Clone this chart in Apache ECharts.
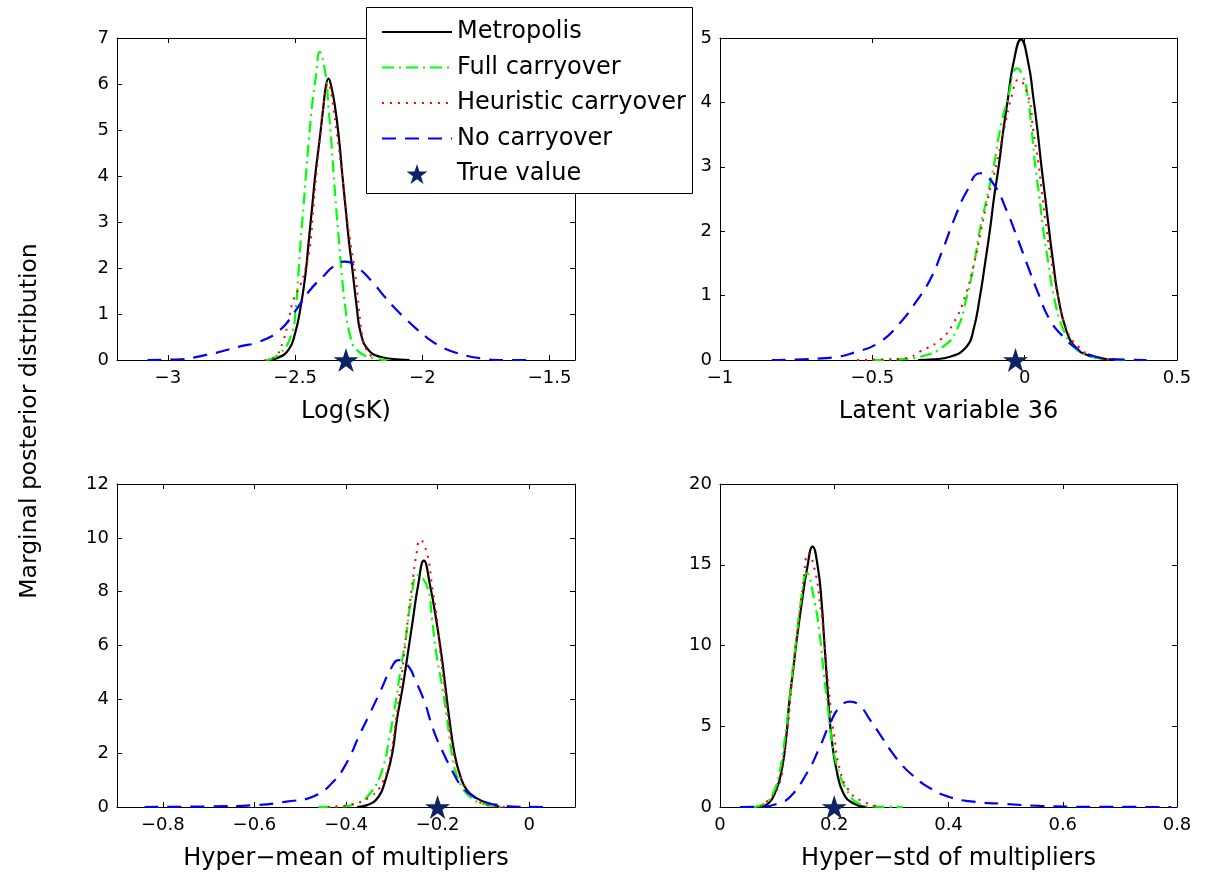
<!DOCTYPE html>
<html>
<head>
<meta charset="utf-8">
<script src="https://cdn.jsdelivr.net/npm/echarts@6/dist/echarts.min.js"></script>
<style>html,body{margin:0;padding:0;background:#fff}#c{width:1205px;height:874px}</style>
</head>
<body>
<div id="c"></div>
<script>
// ---------------- DATA ----------------
const seriesNames = ['Metropolis', 'Full carryover', 'Heuristic carryover', 'No carryover', 'True value'];
const yTitle = 'Marginal posterior distribution';
const xTitles = ['Log(sK)', 'Latent variable 36', 'Hyper\u2212mean of multipliers', 'Hyper\u2212std of multipliers'];

// Panel 1: Log(sK)
const tlXTicks = [-3, -2.5, -2, -1.5];
const tlMetX = [-2.61,-2.572,-2.526,-2.5,-2.478,-2.459,-2.446,-2.433,-2.42,-2.404,-2.389,-2.379,-2.369,-2.358,-2.343,-2.327,-2.315,-2.302,-2.289,-2.273,-2.258,-2.242,-2.212,-2.166,-2.087,-2.05];
const tlMetY = [0,0.04,0.22,0.58,1.16,1.88,2.61,3.33,4.06,4.78,5.5,5.95,6.12,5.95,5.5,4.78,4.06,3.33,2.61,1.88,1.16,0.58,0.22,0.07,0.01,0];
const tlFullX = [-2.61,-2.559,-2.513,-2.497,-2.487,-2.478,-2.467,-2.457,-2.446,-2.434,-2.417,-2.404,-2.381,-2.369,-2.358,-2.349,-2.339,-2.328,-2.317,-2.303,-2.286,-2.258,-2.192,-2.14];
const tlFullY = [0,0.14,0.58,1.16,1.88,2.61,3.33,4.06,4.78,5.5,6.23,6.7,6.23,5.5,4.78,4.06,3.33,2.61,1.88,1.16,0.58,0.22,0.04,0];
const tlHeurX = [-2.62,-2.579,-2.546,-2.526,-2.507,-2.48,-2.461,-2.441,-2.428,-2.415,-2.402,-2.389,-2.369,-2.356,-2.336,-2.319,-2.302,-2.284,-2.264,-2.25,-2.238,-2.225,-2.205,-2.18];
const tlHeurY = [0,0.07,0.43,0.87,1.3,1.62,1.95,2.5,3.33,4.13,4.86,5.5,6.01,5.72,4.93,4.2,3.33,2.61,1.88,1.16,0.58,0.29,0.11,0];
const tlNoX = [-3.08,-2.97,-2.85,-2.72,-2.64,-2.56,-2.5,-2.446,-2.384,-2.35,-2.306,-2.26,-2.2,-2.149,-2.1,-2.061,-2.02,-1.978,-1.93,-1.88,-1.775,-1.677,-1.58];
const tlNoY = [0,0.01,0.11,0.29,0.4,0.65,1.06,1.49,1.85,2.03,2.14,2.03,1.72,1.38,1.08,0.87,0.66,0.47,0.3,0.18,0.04,0.0,0];
const tlTrue = -2.3;

// Panel 2: Latent variable 36
const trXTicks = [-1, -0.5, 0, 0.5];
const trMetX = [-0.35,-0.3,-0.245,-0.19,-0.168,-0.147,-0.13,-0.114,-0.1,-0.084,-0.07,-0.054,-0.037,-0.012,0.012,0.028,0.042,0.054,0.067,0.08,0.094,0.11,0.136,0.165,0.203,0.247,0.3];
const trMetY = [0,0.01,0.05,0.21,0.47,0.98,1.5,2.02,2.54,3.05,3.57,4.09,4.61,4.98,4.61,4.09,3.57,3.05,2.54,2.02,1.5,0.98,0.47,0.21,0.08,0.03,0];
const trFullX = [-0.5,-0.42,-0.344,-0.267,-0.223,-0.19,-0.166,-0.147,-0.123,-0.1,-0.081,-0.054,-0.025,-0.005,0.01,0.023,0.034,0.048,0.061,0.078,0.096,0.127,0.16,0.203,0.26,0.33];
const trFullY = [0,0.01,0.05,0.21,0.47,0.98,1.5,2.02,2.54,3.05,3.57,4.09,4.53,4.4,4.09,3.57,3.05,2.54,2.02,1.5,0.98,0.47,0.21,0.08,0.02,0];
const trHeurX = [-0.55,-0.45,-0.387,-0.344,-0.278,-0.234,-0.196,-0.166,-0.143,-0.119,-0.092,-0.068,-0.043,-0.021,0.012,0.028,0.045,0.058,0.072,0.089,0.11,0.138,0.176,0.23,0.3];
const trHeurY = [0,0.01,0.03,0.13,0.31,0.57,0.98,1.5,2.02,2.54,3.05,3.57,4.09,4.35,4.09,3.57,3.05,2.54,2.02,1.5,0.98,0.47,0.21,0.05,0];
const trNoX = [-0.83,-0.65,-0.55,-0.475,-0.41,-0.36,-0.31,-0.27,-0.23,-0.19,-0.147,-0.103,-0.06,-0.026,0.007,0.04,0.083,0.127,0.17,0.22,0.3,0.4];
const trNoY = [0,0.03,0.13,0.28,0.57,0.88,1.25,1.7,2.2,2.62,2.9,2.74,2.33,1.92,1.5,1.09,0.62,0.36,0.18,0.07,0.01,0];
const trTrue = -0.03;

// Panel 3: Hyper-mean of multipliers
const blXTicks = [-0.8, -0.6, -0.4, -0.2, 0];
const blMetX = [-0.376,-0.354,-0.329,-0.314,-0.299,-0.289,-0.276,-0.265,-0.254,-0.243,-0.23,-0.216,-0.203,-0.192,-0.183,-0.174,-0.163,-0.15,-0.136,-0.114,-0.085,-0.063];
const blMetY = [0,0.07,0.38,1.0,1.99,3.23,4.47,5.71,6.95,8.19,9.15,8.19,6.95,5.71,4.47,3.23,1.99,1.13,0.63,0.32,0.11,0];
const blFullX = [-0.46,-0.41,-0.376,-0.347,-0.321,-0.305,-0.292,-0.281,-0.269,-0.259,-0.243,-0.223,-0.212,-0.203,-0.19,-0.179,-0.169,-0.154,-0.129,-0.099,-0.056];
const blFullY = [0,0.02,0.14,0.51,1.37,2.61,3.85,5.09,6.33,7.57,8.62,8.19,6.95,5.71,4.47,3.23,1.99,1.0,0.38,0.11,0];
const blHeurX = [-0.44,-0.398,-0.347,-0.318,-0.302,-0.291,-0.281,-0.273,-0.265,-0.256,-0.246,-0.238,-0.223,-0.212,-0.201,-0.194,-0.185,-0.176,-0.165,-0.147,-0.121,-0.092,-0.05];
const blHeurY = [0,0.07,0.38,1.0,1.99,3.23,4.47,5.71,6.95,8.19,9.42,9.92,9.42,8.19,6.95,5.71,4.47,3.23,1.99,1.0,0.38,0.07,0];
const blNoX = [-0.84,-0.7,-0.6,-0.53,-0.47,-0.43,-0.4,-0.37,-0.35,-0.325,-0.3,-0.285,-0.263,-0.249,-0.23,-0.209,-0.187,-0.165,-0.147,-0.121,-0.092,-0.06,-0.02,0.03];
const blNoY = [0,0.02,0.07,0.2,0.4,0.9,1.6,2.7,3.4,4.3,5.2,5.46,5.21,4.72,3.98,2.86,1.99,1.25,0.76,0.38,0.16,0.06,0.01,0];
const blTrue = -0.2;

// Panel 4: Hyper-std of multipliers
const brXTicks = [0, 0.2, 0.4, 0.6, 0.8];
const brMetX = [0.07,0.085,0.096,0.108,0.116,0.121,0.128,0.135,0.143,0.152,0.162,0.172,0.178,0.182,0.186,0.19,0.195,0.204,0.216,0.233,0.257];
const brMetY = [0,0.23,0.85,2.29,4.36,6.42,8.48,10.55,12.61,14.67,16.12,14.67,12.61,10.55,8.48,6.42,4.36,2.29,0.85,0.23,0];
const brFullX = [0.058,0.079,0.093,0.105,0.114,0.121,0.127,0.134,0.141,0.152,0.166,0.175,0.181,0.188,0.195,0.207,0.225,0.242,0.27,0.32];
const brFullY = [0,0.23,0.85,2.29,4.36,6.42,8.48,10.55,12.61,14.47,12.61,10.55,8.48,6.42,4.36,2.29,0.85,0.23,0.03,0];
const brHeurX = [0.07,0.082,0.102,0.113,0.12,0.125,0.131,0.138,0.145,0.155,0.166,0.175,0.182,0.187,0.193,0.2,0.21,0.225,0.245,0.28];
const brHeurY = [0,0.33,1.26,3.32,5.39,7.45,9.51,11.58,13.64,15.71,14.67,12.61,10.55,8.48,6.42,4.36,2.29,1.05,0.43,0];
const brNoX = [0.035,0.076,0.1,0.123,0.152,0.172,0.193,0.21,0.228,0.245,0.263,0.28,0.298,0.315,0.333,0.368,0.403,0.443,0.5,0.56,0.65,0.79];
const brNoY = [0,0.02,0.2,0.64,2.09,3.5,5.2,6.2,6.52,6.25,5.38,4.5,3.53,2.75,2.09,1.16,0.6,0.33,0.19,0.07,0.01,0];
const brTrue = 0.2;

// ---------------- LAYOUT / STYLE ----------------
const FONT = 'DejaVu Sans';
const panels = [
  {grid:{left:117, top:38, width:458, height:322}, xmin:-3.2, xmax:-1.4, xticks:tlXTicks, ymax:7, yint:1,
   curves:[[tlMetX,tlMetY],[tlFullX,tlFullY],[tlHeurX,tlHeurY],[tlNoX,tlNoY]], truth:tlTrue},
  {grid:{left:720, top:38, width:457, height:322}, xmin:-1, xmax:0.5, xticks:trXTicks, ymax:5, yint:1,
   curves:[[trMetX,trMetY],[trFullX,trFullY],[trHeurX,trHeurY],[trNoX,trNoY]], truth:trTrue},
  {grid:{left:117, top:484, width:458, height:323}, xmin:-0.9, xmax:0.1, xticks:blXTicks, ymax:12, yint:2,
   curves:[[blMetX,blMetY],[blFullX,blFullY],[blHeurX,blHeurY],[blNoX,blNoY]], truth:blTrue},
  {grid:{left:720, top:484, width:457, height:323}, xmin:0, xmax:0.8, xticks:brXTicks, ymax:20, yint:5,
   curves:[[brMetX,brMetY],[brFullX,brFullY],[brHeurX,brHeurY],[brNoX,brNoY]], truth:brTrue}
];
const lineStyles = [
  {color:'#000000', width:2.2, type:'solid'},
  {color:'#00ff00', width:2.2, type:[12,5,2,5]},
  {color:'#ff0000', width:2, type:[2,6]},
  {color:'#0000ff', width:2.2, type:[14,9]}
];
const starColor = '#0c2464';
const starPath = 'path://M50,0 L61.2,34.5 L97.6,34.5 L68.2,55.9 L79.4,90.5 L50,69.1 L20.6,90.5 L31.8,55.9 L2.4,34.5 L38.8,34.5 Z';

function fmt(v){
  let s = String(Math.round(v*1000)/1000);
  return s.replace('-', '\u2212');
}

const grids = [], xAxes = [], yAxes = [], series = [];
const axisLineStyle = {color:'#000', width:1};
panels.forEach((p, i) => {
  grids.push(Object.assign({containLabel:false}, p.grid));
  const common = {gridIndex:i, type:'value', min:p.xmin, max:p.xmax, splitLine:{show:false},
    axisLine:{show:true, onZero:false, lineStyle:axisLineStyle}};
  xAxes.push(Object.assign({}, common, {
    position:'bottom',
    axisTick:{show:true, inside:true, length:5, lineStyle:axisLineStyle, customValues:p.xticks},
    axisLabel:{show:true, color:'#000', fontFamily:FONT, fontSize:18, margin:9, formatter:fmt, customValues:p.xticks},
    name:xTitles[i], nameLocation:'middle', nameGap:40,
    nameTextStyle:{color:'#000', fontFamily:FONT, fontSize:24}
  }));
  xAxes.push(Object.assign({}, common, {
    position:'top',
    axisTick:{show:true, inside:true, length:5, lineStyle:axisLineStyle, customValues:p.xticks},
    axisLabel:{show:false, customValues:p.xticks}
  }));
  const ycommon = {gridIndex:i, type:'value', min:0, max:p.ymax, interval:p.yint, splitLine:{show:false},
    axisLine:{show:true, onZero:false, lineStyle:axisLineStyle},
    axisTick:{show:true, inside:true, length:5, lineStyle:axisLineStyle}};
  yAxes.push(Object.assign({}, ycommon, {
    position:'left',
    axisLabel:{show:true, color:'#000', fontFamily:FONT, fontSize:18, margin:8, formatter:fmt}
  }));
  yAxes.push(Object.assign({}, ycommon, {position:'right', axisLabel:{show:false}}));

  p.curves.forEach((c, k) => {
    series.push({
      type:'line', name:seriesNames[k], xAxisIndex:2*i, yAxisIndex:2*i,
      data:c[0].map((x, j) => [x, c[1][j]]),
      symbol:'none', showSymbol:false, smooth:0.5,
      lineStyle:lineStyles[k], itemStyle:{color:lineStyles[k].color},
      animation:false, silent:true, z:2+k
    });
  });
  series.push({
    type:'scatter', name:seriesNames[4], xAxisIndex:2*i, yAxisIndex:2*i,
    data:[[p.truth, 0]], symbol:starPath, symbolSize:25, symbolKeepAspect:true,
    itemStyle:{color:starColor, opacity:1}, clip:false, animation:false, silent:true, z:10
  });
});

const legendData = seriesNames.map((n, k) => k < 4 ? {name:n, itemStyle:{opacity:0}} : {name:n});

const chart = echarts.init(document.getElementById('c'), null, {renderer:'canvas'});
chart.setOption({
  backgroundColor:'#ffffff',
  animation:false,
  textStyle:{fontFamily:FONT},
  grid:grids, xAxis:xAxes, yAxis:yAxes, series:series,
  legend:{
    show:true, orient:'vertical', left:376, top:15, itemWidth:70, itemHeight:20, itemGap:11.5,
    data:legendData, selectedMode:false, z:101, zlevel:0,
    textStyle:{color:'#000', fontFamily:FONT, fontSize:24},
    backgroundColor:'transparent', borderWidth:0
  },
  graphic:[
    {type:'rect', z:100, zlevel:0, silent:true, shape:{x:366.5, y:7.5, width:326, height:186},
     style:{fill:'#ffffff', stroke:'#000000', lineWidth:1}},
    {type:'text', x:30, y:421, rotation:Math.PI/2, silent:true, z:100,
     style:{text:yTitle, fill:'#000', font:'23.5px "DejaVu Sans"', align:'center', verticalAlign:'middle'}}
  ]
});
</script>
</body>
</html>
